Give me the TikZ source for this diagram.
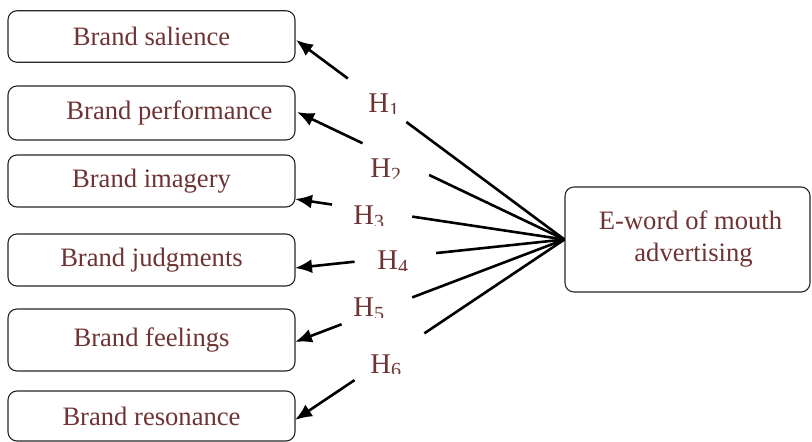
\documentclass[tikz,border=0pt]{standalone}
\usepackage{fontspec}
\setmainfont{Liberation Serif}
\usetikzlibrary{arrows.meta,calc}
\definecolor{labelbrown}{RGB}{110,52,52}
% hypothesis label whose subscript is cut off at the baseline of the H
\newcommand\hyplabel[4]{%
  \begin{scope}
    \clip (#2-6,#3-40) rectangle (#2+50,#3+1);
    \node[hyp] (#1) at (#2,#3) {H\raisebox{-1.8pt}{\fontsize{10}{12}\selectfont #4}};
  \end{scope}}
\begin{document}
\begin{tikzpicture}[x=0.5pt,y=-0.5pt,
  box/.style={draw=black!85, line width=0.55pt, rounded corners=4.5pt, inner sep=0pt,
    minimum width=143.5pt, text=labelbrown, font=\fontsize{13.3}{16}\selectfont},
  link/.style={line width=1.3pt},
  tip/.style={-{Latex[length=8.5pt,width=7pt]}},
  hyp/.style={text=labelbrown, font=\fontsize{14.3}{16}\selectfont, inner sep=0pt, anchor=base west}]
\useasboundingbox (0,0) rectangle (812,442);

% brand dimension boxes
\node[box, minimum height=25.75pt] (b1) at (151.5,36.5) {Brand salience};
\node[box, minimum height=27pt]    (b2) at (151.5,113)  {\hspace*{18pt}Brand performance};
\node[box, minimum height=26pt]    (b3) at (151.5,181)  {Brand imagery};
\node[box, minimum height=26pt]    (b4) at (151.5,260)  {Brand judgments};
\node[box, minimum height=31pt]    (b5) at (151.5,340)  {Brand feelings};
\node[box, minimum height=25pt]    (b6) at (151.5,416)  {Brand resonance};

% source box
\node[box, minimum width=122.5pt, minimum height=52.5pt, align=center] (e) at (687.5,239.5)
  {\hspace*{3pt}E-word of mouth\\\hspace*{6pt}advertising};

% arrow tips on the boxes
\coordinate (t1) at (296,40);
\coordinate (t2) at (297,112);
\coordinate (t3) at (295,199);
\coordinate (t4) at (295,268);
\coordinate (t5) at (295,342);
\coordinate (t6) at (295,420);

% connectors, broken where the labels sit
\foreach \i/\a/\b in {1/0.589/0.807, 2/0.506/0.755, 3/0.565/0.863,
                      4/0.476/0.779, 5/0.565/0.827, 6/0.520/0.779} {
  \draw[link] (e.west) -- ($(e.west)!\a!(t\i)$);
  \draw[link,tip] ($(e.west)!\b!(t\i)$) -- (t\i);
}

% hypothesis labels
\hyplabel{h1}{368}{113}{1}
\hyplabel{h2}{370}{178}{2}
\hyplabel{h3}{353}{225}{3}
\hyplabel{h4}{377}{270}{4}
\hyplabel{h5}{353}{317}{5}
\hyplabel{h6}{370}{373}{6}
\end{tikzpicture}
\end{document}
